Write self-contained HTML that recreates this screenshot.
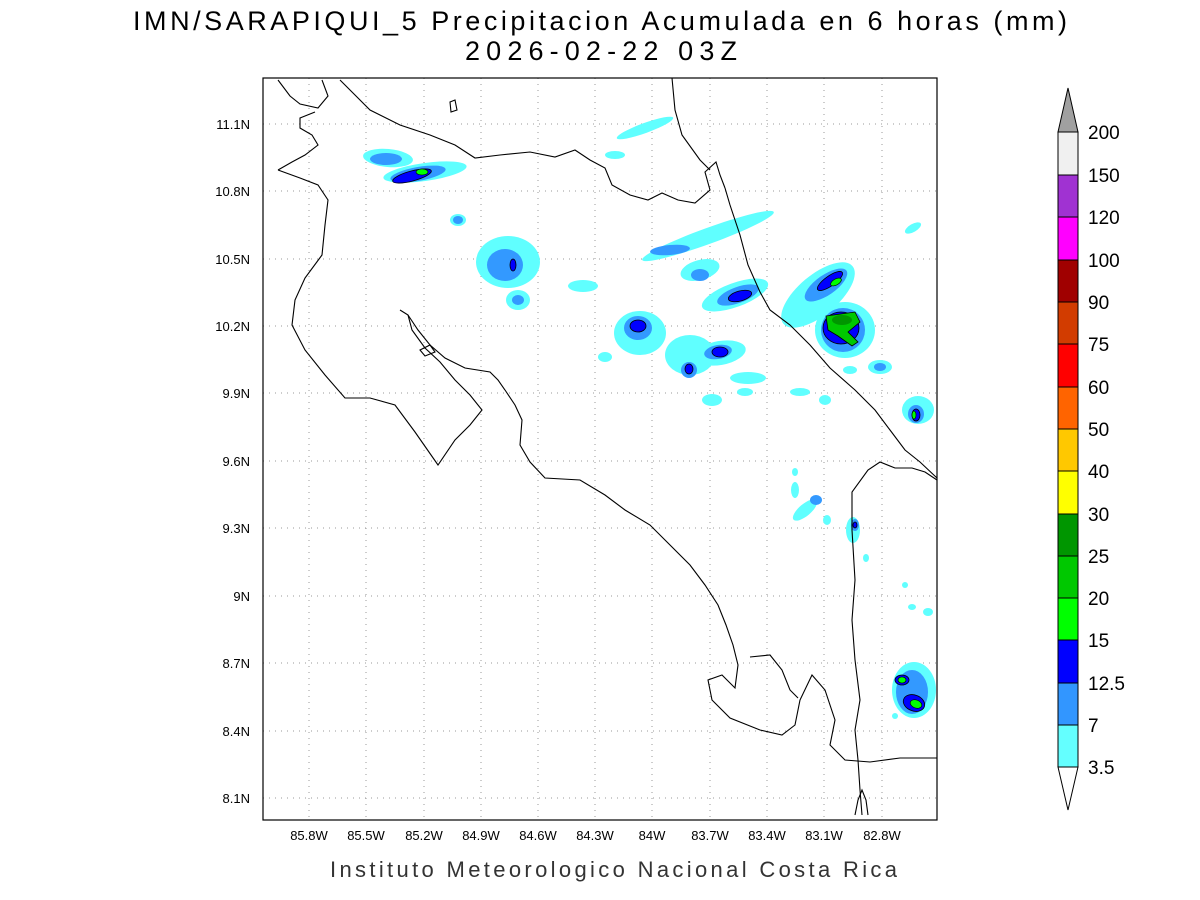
<!DOCTYPE html>
<html><head><meta charset="utf-8"><style>
html,body{margin:0;padding:0;background:#fff;}
svg{display:block;}
text{font-family:"Liberation Sans",sans-serif;}
</style></head><body>
<svg width="1200" height="900" viewBox="0 0 1200 900" xmlns="http://www.w3.org/2000/svg">
<rect width="1200" height="900" fill="#fff"/>
<text x="133" y="30" font-size="27" fill="#000" textLength="934" lengthAdjust="spacing">IMN/SARAPIQUI_5 Precipitacion Acumulada en 6 horas (mm)</text>
<text x="465" y="60" font-size="27" fill="#000" textLength="272" lengthAdjust="spacing">2026-02-22 03Z</text>

<!-- grid -->
<g stroke="#999" stroke-width="1" stroke-dasharray="1,5">
<line x1="309" y1="78" x2="309" y2="820"/><line x1="366" y1="78" x2="366" y2="820"/><line x1="424" y1="78" x2="424" y2="820"/><line x1="481" y1="78" x2="481" y2="820"/><line x1="538" y1="78" x2="538" y2="820"/><line x1="595" y1="78" x2="595" y2="820"/><line x1="652" y1="78" x2="652" y2="820"/><line x1="710" y1="78" x2="710" y2="820"/><line x1="767" y1="78" x2="767" y2="820"/><line x1="824" y1="78" x2="824" y2="820"/><line x1="882" y1="78" x2="882" y2="820"/>
<line x1="263" y1="124" x2="937" y2="124"/><line x1="263" y1="191" x2="937" y2="191"/><line x1="263" y1="259" x2="937" y2="259"/><line x1="263" y1="326" x2="937" y2="326"/><line x1="263" y1="393" x2="937" y2="393"/><line x1="263" y1="461" x2="937" y2="461"/><line x1="263" y1="528" x2="937" y2="528"/><line x1="263" y1="596" x2="937" y2="596"/><line x1="263" y1="663" x2="937" y2="663"/><line x1="263" y1="731" x2="937" y2="731"/><line x1="263" y1="798" x2="937" y2="798"/>
</g>

<!-- precipitation -->
<g>
<g fill="#60ffff">
<ellipse cx="388" cy="158" rx="25" ry="9" transform="rotate(5 388 158)"/>
<ellipse cx="425" cy="172" rx="42" ry="9" transform="rotate(-8 425 172)"/>
<ellipse cx="458" cy="220" rx="8" ry="6"/>
<ellipse cx="508" cy="262" rx="32" ry="26"/>
<ellipse cx="518" cy="300" rx="12" ry="10"/>
<ellipse cx="583" cy="286" rx="15" ry="6"/>
<ellipse cx="640" cy="333" rx="26" ry="22"/>
<ellipse cx="605" cy="357" rx="7" ry="5"/>
<ellipse cx="690" cy="355" rx="25" ry="20"/>
<ellipse cx="720" cy="353" rx="26" ry="12" transform="rotate(-10 720 353)"/>
<ellipse cx="712" cy="400" rx="10" ry="6"/>
<ellipse cx="748" cy="378" rx="18" ry="6"/>
<ellipse cx="708" cy="236" rx="70" ry="8" transform="rotate(-20 708 236)"/>
<ellipse cx="700" cy="270" rx="20" ry="10" transform="rotate(-15 700 270)"/>
<ellipse cx="735" cy="295" rx="35" ry="12" transform="rotate(-20 735 295)"/>
<ellipse cx="645" cy="128" rx="30" ry="5" transform="rotate(-20 645 128)"/>
<ellipse cx="615" cy="155" rx="10" ry="4"/>
<ellipse cx="818" cy="295" rx="45" ry="20" transform="rotate(-40 818 295)"/>
<ellipse cx="845" cy="330" rx="30" ry="28"/>
<ellipse cx="880" cy="367" rx="12" ry="7"/>
<ellipse cx="850" cy="370" rx="7" ry="4"/>
<ellipse cx="918" cy="410" rx="16" ry="14"/>
<ellipse cx="913" cy="228" rx="9" ry="4" transform="rotate(-30 913 228)"/>
<ellipse cx="800" cy="392" rx="10" ry="4"/>
<ellipse cx="825" cy="400" rx="6" ry="5"/>
<ellipse cx="805" cy="510" rx="15" ry="6" transform="rotate(-40 805 510)"/>
<ellipse cx="795" cy="490" rx="4" ry="8"/>
<ellipse cx="795" cy="472" rx="3" ry="4"/>
<ellipse cx="827" cy="520" rx="4" ry="5"/>
<ellipse cx="853" cy="530" rx="7" ry="13"/>
<ellipse cx="866" cy="558" rx="3" ry="4"/>
<ellipse cx="905" cy="585" rx="3" ry="3"/>
<ellipse cx="912" cy="607" rx="4" ry="3"/>
<ellipse cx="928" cy="612" rx="5" ry="4"/>
<ellipse cx="914" cy="690" rx="22" ry="28"/>
<ellipse cx="895" cy="716" rx="3" ry="3"/>
<ellipse cx="745" cy="392" rx="8" ry="4"/>
</g>
<g fill="#3399ff">
<ellipse cx="386" cy="159" rx="16" ry="6"/>
<ellipse cx="418" cy="174" rx="28" ry="7" transform="rotate(-10 418 174)"/>
<ellipse cx="458" cy="220" rx="5" ry="4"/>
<ellipse cx="505" cy="265" rx="18" ry="16"/>
<ellipse cx="518" cy="300" rx="6" ry="5"/>
<ellipse cx="638" cy="328" rx="14" ry="12"/>
<ellipse cx="718" cy="352" rx="14" ry="7" transform="rotate(-10 718 352)"/>
<ellipse cx="689" cy="370" rx="8" ry="8"/>
<ellipse cx="700" cy="275" rx="9" ry="6"/>
<ellipse cx="738" cy="295" rx="22" ry="8" transform="rotate(-20 738 295)"/>
<ellipse cx="670" cy="250" rx="20" ry="5" transform="rotate(-5 670 250)"/>
<ellipse cx="826" cy="285" rx="25" ry="10" transform="rotate(-35 826 285)"/>
<ellipse cx="843" cy="330" rx="22" ry="22"/>
<ellipse cx="880" cy="367" rx="6" ry="4"/>
<ellipse cx="916" cy="414" rx="8" ry="9"/>
<ellipse cx="816" cy="500" rx="6" ry="5"/>
<ellipse cx="855" cy="525" rx="4" ry="6"/>
<ellipse cx="912" cy="692" rx="16" ry="22"/>
</g>
<g fill="#0000ff" stroke="#000" stroke-width="0.8">
<ellipse cx="412" cy="176" rx="20" ry="5" transform="rotate(-15 412 176)"/>
<ellipse cx="513" cy="265" rx="3" ry="6"/>
<ellipse cx="638" cy="326" rx="8" ry="6"/>
<ellipse cx="720" cy="352" rx="8" ry="5"/>
<ellipse cx="689" cy="369" rx="4" ry="5"/>
<ellipse cx="740" cy="296" rx="12" ry="5" transform="rotate(-15 740 296)"/>
<ellipse cx="830" cy="281" rx="15" ry="5" transform="rotate(-35 830 281)"/>
<ellipse cx="841" cy="328" rx="18" ry="16"/>
<ellipse cx="916" cy="415" rx="4" ry="6"/>
<ellipse cx="855" cy="525" rx="2" ry="3"/>
<ellipse cx="902" cy="680" rx="7" ry="5"/>
<ellipse cx="914" cy="703" rx="11" ry="8" transform="rotate(20 914 703)"/>
</g>
<g fill="#00ff00" stroke="#000" stroke-width="0.6">
<ellipse cx="422" cy="172" rx="6" ry="3"/>
<ellipse cx="836" cy="282" rx="6" ry="3" transform="rotate(-30 836 282)"/>
<ellipse cx="914" cy="415" rx="2" ry="4"/>
<ellipse cx="902" cy="680" rx="4" ry="3"/>
<ellipse cx="916" cy="704" rx="6" ry="4" transform="rotate(20 916 704)"/>
</g>
<path d="M826 316 L855 312 L860 322 L848 332 L858 342 L852 346 L838 336 L828 330 Z" fill="#00c800" stroke="#000" stroke-width="0.8"/>
<ellipse cx="842" cy="320" rx="10" ry="5" fill="#009600"/>
</g>

<!-- coastlines -->
<g fill="none" stroke="#000" stroke-width="1.1">
<path d="M278 80 L290 96 L300 104 L318 108 L328 96 L322 80"/>
<path d="M340 80 L355 95 L370 110 L400 125 L430 135 L455 145 L475 158 L500 155 L530 152 L555 157 L575 150 L590 160 L605 168 L612 185 L630 195 L648 200 L662 193 L678 200 L695 203 L710 190 L705 172 L716 162 L720 175 L725 188"/>
<path d="M672 78 L675 110 L682 135 L700 160 L710 170"/>
<path d="M725 188 L730 205 L740 235 L748 265 L760 292 L770 310 L790 325 L810 345 L830 368 L855 390 L875 410 L890 430 L905 450 L920 462 L937 478"/>
<path d="M278 170 L292 162 L305 155 L318 145 L312 135 L300 128 L300 118 L315 112"/>
<path d="M278 170 L300 178 L318 185 L328 200 L325 225 L322 255 L305 278 L295 300 L292 325 L305 350 L325 375 L345 398 L370 398 L395 405 L415 432 L438 465 L455 440 L470 425 L482 410 L470 395 L455 380 L440 362 L425 348 L412 330 L408 315 L400 310"/>
<path d="M408 315 L418 330 L430 345 L445 358 L465 368 L490 372 L498 380 L505 390 L515 405 L522 420 L520 445 L530 462 L545 478 L580 480 L605 495 L625 510 L650 525 L670 545 L690 565 L705 585 L718 605 L726 625 L733 645 L738 665 L735 688 L722 675 L708 680 L712 700 L730 718 L760 730 L782 735 L795 725 L800 700 L812 675 L825 690 L835 720 L830 745 L845 760 L870 762 L900 758 L937 758"/>
<path d="M750 657 L770 655 L782 670 L790 690 L798 698"/>
<path d="M862 815 L860 790 L858 760 L855 730 L860 700 L855 660 L852 620 L855 580 L852 530 L852 492 L868 470 L880 462 L895 468 L912 468 L925 472 L937 480"/>
<path d="M420 350 L430 345 L435 352 L425 356 Z"/>
<path d="M450 102 L455 100 L457 110 L451 112 Z"/>
<path d="M855 815 L858 800 L862 790 L866 800 L868 815"/>
</g>

<!-- frame -->
<rect x="263" y="78" width="674" height="742" fill="none" stroke="#000" stroke-width="1.2"/>

<!-- tick labels -->
<g font-size="13" text-anchor="middle" fill="#000">
<text x="309" y="840">85.8W</text><text x="366" y="840">85.5W</text><text x="424" y="840">85.2W</text><text x="481" y="840">84.9W</text><text x="538" y="840">84.6W</text><text x="595" y="840">84.3W</text><text x="652" y="840">84W</text><text x="710" y="840">83.7W</text><text x="767" y="840">83.4W</text><text x="824" y="840">83.1W</text><text x="882" y="840">82.8W</text>
</g>
<g font-size="13" text-anchor="end" fill="#000">
<text x="250" y="129">11.1N</text><text x="250" y="196">10.8N</text><text x="250" y="264">10.5N</text><text x="250" y="331">10.2N</text><text x="250" y="398">9.9N</text><text x="250" y="466">9.6N</text><text x="250" y="533">9.3N</text><text x="250" y="601">9N</text><text x="250" y="668">8.7N</text><text x="250" y="736">8.4N</text><text x="250" y="803">8.1N</text>
</g>
<text x="330" y="877" font-size="22" fill="#333" textLength="567" lengthAdjust="spacing">Instituto Meteorologico Nacional Costa Rica</text>

<!-- colorbar -->
<g stroke="#000" stroke-width="1">
<polygon points="1058,132 1068,88 1078,132" fill="#a0a0a0"/>
<rect x="1058" y="132" width="20" height="43" fill="#f0f0f0"/>
<rect x="1058" y="175" width="20" height="42" fill="#a032d2"/>
<rect x="1058" y="217" width="20" height="43" fill="#ff00ff"/>
<rect x="1058" y="260" width="20" height="42" fill="#a00000"/>
<rect x="1058" y="302" width="20" height="42" fill="#d23c00"/>
<rect x="1058" y="344" width="20" height="43" fill="#ff0000"/>
<rect x="1058" y="387" width="20" height="42" fill="#ff6400"/>
<rect x="1058" y="429" width="20" height="42" fill="#ffc800"/>
<rect x="1058" y="471" width="20" height="43" fill="#ffff00"/>
<rect x="1058" y="514" width="20" height="42" fill="#009600"/>
<rect x="1058" y="556" width="20" height="42" fill="#00c800"/>
<rect x="1058" y="598" width="20" height="42" fill="#00ff00"/>
<rect x="1058" y="640" width="20" height="43" fill="#0000ff"/>
<rect x="1058" y="683" width="20" height="42" fill="#3296ff"/>
<rect x="1058" y="725" width="20" height="42" fill="#64ffff"/>
<polygon points="1058,767 1068,810 1078,767" fill="#fff"/>
</g>
<g font-size="19" fill="#000">
<text x="1088" y="139">200</text><text x="1088" y="182">150</text><text x="1088" y="224">120</text><text x="1088" y="267">100</text><text x="1088" y="309">90</text><text x="1088" y="351">75</text><text x="1088" y="394">60</text><text x="1088" y="436">50</text><text x="1088" y="478">40</text><text x="1088" y="521">30</text><text x="1088" y="563">25</text><text x="1088" y="605">20</text><text x="1088" y="647">15</text><text x="1088" y="690">12.5</text><text x="1088" y="732">7</text><text x="1088" y="774">3.5</text>
</g>
</svg>
</body></html>
